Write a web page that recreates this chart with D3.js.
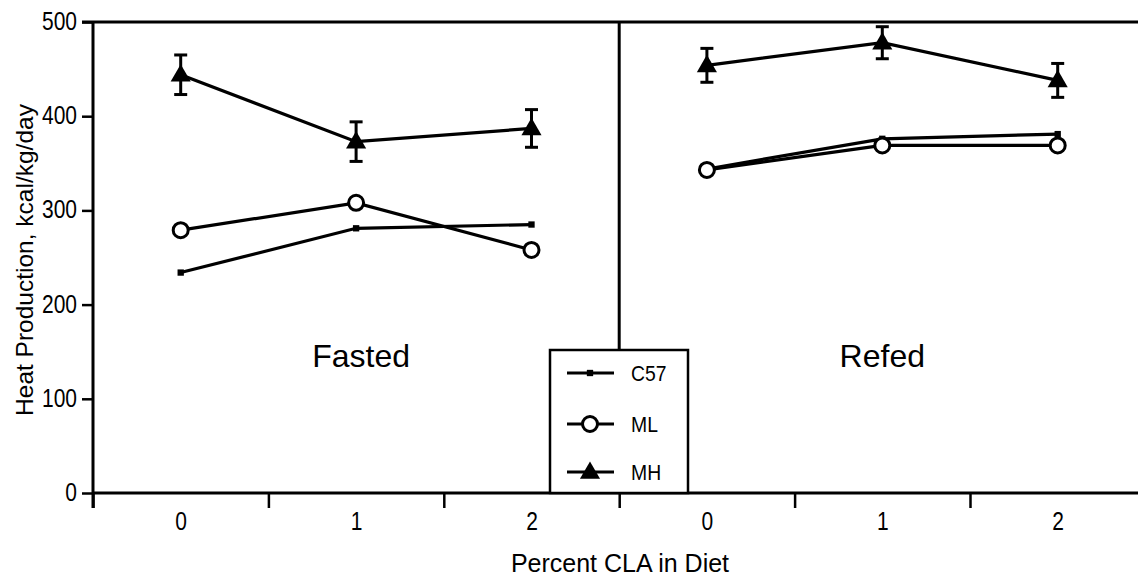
<!DOCTYPE html>
<html>
<head>
<meta charset="utf-8">
<script src="https://cdn.jsdelivr.net/npm/d3@7"></script>
<style>
  body { margin: 0; background: #fff; }
  svg text { font-family: "Liberation Sans", Arial, Helvetica, sans-serif; fill: #000; }
</style>
</head>
<body>
<div id="chart"></div>
<script>
// values
var panels = ["Fasted", "Refed"];
var doses = ["0", "1", "2"];
var yTicks = [0, 100, 200, 300, 400, 500];

var c57Fasted = [234, 281, 285];
var c57Refed = [344, 376, 381];
var mlFasted = [279, 308, 258];
var mlRefed = [343, 369, 369];
var mhFasted = [444, 373, 387];
var mhRefed = [454, 478, 438];
var mhErrFasted = [21, 21, 20];
var mhErrRefed = [18, 17, 18];

var series = [
  {id: "C57", values: [c57Fasted, c57Refed], err: null},
  {id: "ML", values: [mlFasted, mlRefed], err: null},
  {id: "MH", values: [mhFasted, mhRefed], err: [mhErrFasted, mhErrRefed]}
];

var svg = d3.select("#chart")
            .append("svg")
            .attr("width", 1138)
            .attr("height", 577);

// the original lettering is a condensed sans, squeeze the labels a bit
function narrow(sel, k) {
  sel.each(function() {
    var w = this.getComputedTextLength();
    d3.select(this).attr("textLength", w * k).attr("lengthAdjust", "spacingAndGlyphs");
  });
}

// 6 slots along x: 3 doses for each panel
var x = d3.scaleLinear().domain([0, 6]).range([93, 1145.4]),
    y = d3.scaleLinear().domain([0, 500]).range([493, 22]);

function slot(p, i) { return p * doses.length + i + 0.5; }

// y axis
var yAxis = svg.append("g")
    .attr("transform", "translate(" + x(0) + ",0)")
    .call(d3.axisLeft(y).tickValues(yTicks).tickSize(11).tickPadding(5));
yAxis.select(".domain").remove();
yAxis.selectAll("line").attr("stroke", "#000").attr("stroke-width", 2.5);
yAxis.selectAll("text").style("font-size", "25px").attr("dy", "0.3em").call(narrow, 0.84);

// x axis: boundary ticks
var xAxis = svg.append("g")
    .attr("transform", "translate(0," + y(0) + ")")
    .call(d3.axisBottom(x).tickValues([0, 1, 2, 3, 4, 5]).tickFormat("").tickSize(15));
xAxis.select(".domain").remove();
xAxis.selectAll("line").attr("stroke", "#000").attr("stroke-width", 2.5);

// x axis: dose labels
var xLab = svg.append("g")
    .attr("transform", "translate(0," + y(0) + ")")
    .call(d3.axisBottom(x)
      .tickValues(d3.range(6).map(function(k) { return k + 0.5; }))
      .tickFormat(function(d, k) { return doses[k % doses.length]; })
      .tickSize(0).tickPadding(19));
xLab.select(".domain").remove();
xLab.selectAll("text").style("font-size", "25px").call(narrow, 0.84);

// frame lines
svg.append("line").attr("x1", x(0)).attr("x2", 1138).attr("y1", y(0)).attr("y2", y(0))
   .attr("stroke", "#000").attr("stroke-width", 3);
svg.append("line").attr("x1", x(0) - 11).attr("x2", 1138).attr("y1", y(500)).attr("y2", y(500))
   .attr("stroke", "#000").attr("stroke-width", 3);
svg.append("line").attr("x1", x(0)).attr("x2", x(0)).attr("y1", y(500)).attr("y2", y(0) + 15)
   .attr("stroke", "#000").attr("stroke-width", 3);
svg.append("line").attr("x1", x(3)).attr("x2", x(3)).attr("y1", y(500)).attr("y2", y(0))
   .attr("stroke", "#000").attr("stroke-width", 3);

// axis titles
svg.append("text")
   .attr("transform", "translate(33,260) rotate(-90)")
   .attr("text-anchor", "middle")
   .style("font-size", "24.5px")
   .text("Heat Production, kcal/kg/day");

svg.append("text")
   .attr("x", 620).attr("y", 572)
   .attr("text-anchor", "middle")
   .style("font-size", "25px")
   .text("Percent CLA in Diet");

// panel names
svg.selectAll(".panel-name")
   .data(panels)
   .enter()
   .append("text")
   .attr("class", "panel-name")
   .attr("x", function(d, p) { return x(slot(p, 1)) + (p == 0 ? 5 : 0); })
   .attr("y", 367)
   .attr("text-anchor", "middle")
   .style("font-size", "32px")
   .text(function(d) { return d; });

var line = d3.line()
    .x(function(d) { return x(d.s); })
    .y(function(d) { return y(d.v); });

function points(s, p) {
  return s.values[p].map(function(v, i) {
    return {s: slot(p, i), v: v, e: s.err ? s.err[p][i] : 0};
  });
}

var triangle = d3.symbol().type(d3.symbolTriangle).size(175);
var square = d3.symbol().type(d3.symbolSquare).size(40);

function drawMarker(sel, id) {
  if (id == "C57") {
    sel.append("path").attr("d", square).attr("fill", "#000");
  } else if (id == "ML") {
    sel.append("circle").attr("r", 7.5).attr("fill", "#fff")
       .attr("stroke", "#000").attr("stroke-width", 3);
  } else {
    sel.append("path").attr("d", triangle).attr("transform", "translate(0,1)").attr("fill", "#000");
  }
}

series.forEach(function(s) {
  panels.forEach(function(pn, p) {
    var pts = points(s, p);
    svg.append("path")
       .attr("d", line(pts))
       .attr("fill", "none")
       .attr("stroke", "#000")
       .attr("stroke-width", 3.2);

    if (s.err) {
      var eb = svg.append("g").selectAll("g")
        .data(pts).enter().append("g");
      eb.append("line")
        .attr("x1", function(d) { return x(d.s); }).attr("x2", function(d) { return x(d.s); })
        .attr("y1", function(d) { return y(d.v + d.e); }).attr("y2", function(d) { return y(d.v - d.e); })
        .attr("stroke", "#000").attr("stroke-width", 3);
      [1, -1].forEach(function(sign) {
        eb.append("line")
          .attr("x1", function(d) { return x(d.s) - 6.5; }).attr("x2", function(d) { return x(d.s) + 6.5; })
          .attr("y1", function(d) { return y(d.v + sign * d.e); }).attr("y2", function(d) { return y(d.v + sign * d.e); })
          .attr("stroke", "#000").attr("stroke-width", 3);
      });
    }

    svg.append("g").selectAll("g")
       .data(pts).enter().append("g")
       .attr("transform", function(d) { return "translate(" + x(d.s) + "," + y(d.v) + ")"; })
       .each(function() { drawMarker(d3.select(this), s.id); });
  });
});

// legend
var legend = svg.append("g");
legend.append("rect")
   .attr("x", 550).attr("y", 350).attr("width", 138).attr("height", y(0) - 350)
   .attr("fill", "#fff").attr("stroke", "#000").attr("stroke-width", 2.5);

var legY = [373, 424, 472];
var item = legend.selectAll(".item")
   .data(series)
   .enter()
   .append("g")
   .attr("class", "item")
   .attr("transform", function(d, i) { return "translate(590," + legY[i] + ")"; });

item.append("line").attr("x1", -23).attr("x2", 24)
    .attr("stroke", "#000").attr("stroke-width", 3);
item.each(function(d) { drawMarker(d3.select(this), d.id); });
item.append("text")
    .attr("x", 41).attr("y", 8)
    .style("font-size", "22px")
    .text(function(d) { return d.id; })
    .call(narrow, 0.88);
</script>
</body>
</html>
